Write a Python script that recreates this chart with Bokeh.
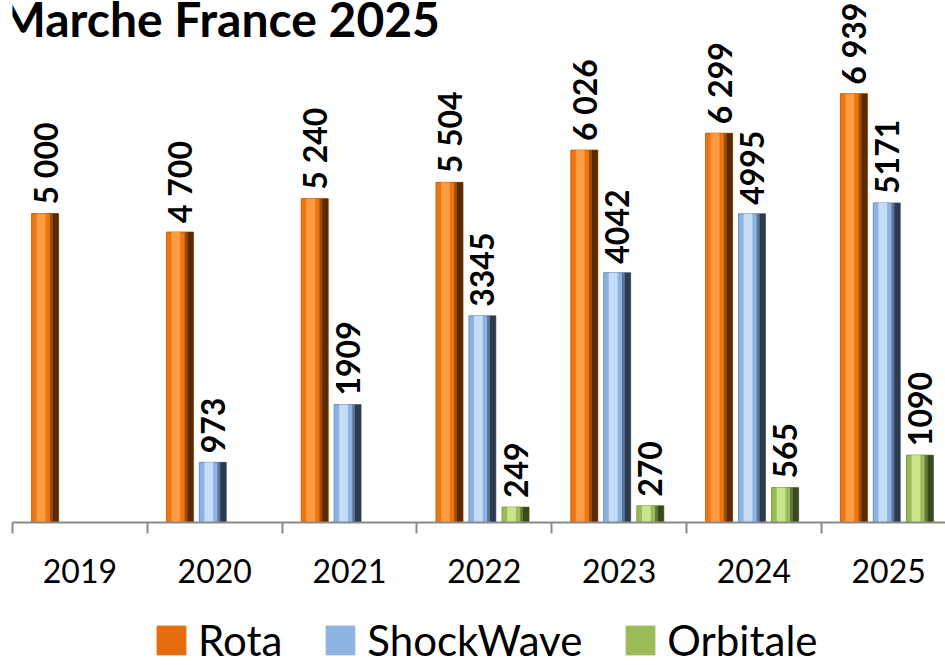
import numpy as np
from bokeh.plotting import figure
from bokeh.layouts import column
from bokeh.models import ColumnDataSource, Range1d, FixedTicker, Legend, LegendItem, Label
from bokeh.transform import dodge
from bokeh.core.properties import value
from bokeh.embed import file_html
from bokeh.resources import INLINE

# ---- data ----
years = ["2019", "2020", "2021", "2022", "2023", "2024", "2025"]
rota = [5000, 4700, 5240, 5504, 6026, 6299, 6939]
shockwave = [None, 973, 1909, 3345, 4042, 4995, 5171]
orbitale = [None, None, None, 249, 270, 565, 1090]
series_names = ["Rota", "ShockWave", "Orbitale"]
series_colors = ["#E46C0A", "#8EB4E3", "#9BBB59"]
title_text = "Marche France 2025"

FONT = "Lato"

p = figure(width=945, height=610, output_backend="svg", toolbar_location=None,
           x_range=Range1d(-0.5, 6.4214), y_range=Range1d(0, 8447),
           y_axis_location=None,
           min_border_left=12, min_border_right=0, min_border_top=0, min_border_bottom=88)
p.outline_line_color = None
p.xgrid.visible = False
p.ygrid.visible = False
p.background_fill_color = "white"
p.border_fill_color = "white"


def fmt_space(v):
    return f"{v:,}".replace(",", " ")


def fmt_plain(v):
    return f"{v}"


def draw_series(vals, off, base, light, mid, dark, edge, fmt):
    idx = [i for i, v in enumerate(vals) if v is not None]
    src = ColumnDataSource(dict(
        x=idx,
        top=[vals[i] for i in idx],
        label=[fmt(vals[i]) for i in idx],
    ))
    p.vbar(x=dodge("x", off), top="top", bottom=0, width=0.2, source=src,
           fill_color=base, line_color=edge, line_width=1)
    p.vbar(x=dodge("x", off - 0.03), top="top", bottom=0, width=0.065, source=src,
           fill_color=light, line_color=None)
    p.vbar(x=dodge("x", off + 0.045), top="top", bottom=0, width=0.02, source=src,
           fill_color=mid, line_color=None)
    p.vbar(x=dodge("x", off + 0.0775), top="top", bottom=0, width=0.045, source=src,
           fill_color=dark, line_color=None)
    p.text(x=dodge("x", off), y="top", text="label", source=src, angle=np.pi / 2,
           text_align="left", text_baseline="middle", y_offset=-9,
           text_font=value(FONT), text_font_style="bold", text_font_size="32px",
           text_color="black")
    return src


src_r = draw_series(rota, -0.258, "#EC7612", "#FF9B40", "#A24A08", "#5A2A04", "#C9600A", fmt_space)
src_s = draw_series(shockwave, -0.014, "#8DB3E2", "#C4DDF8", "#5B7396", "#2E3B4F", "#6F8FB8", fmt_plain)
src_o = draw_series(orbitale, 0.232, "#9BBB59", "#C9E48B", "#62773A", "#3A4821", "#7C9843", fmt_plain)

ax = p.xaxis[0]
ax.ticker = FixedTicker(ticks=list(range(len(years))),
                        minor_ticks=[i - 0.5 for i in range(len(years) + 1)])
ax.major_label_overrides = {i: y for i, y in enumerate(years)}
ax.major_tick_out = 0
ax.major_tick_in = 0
ax.minor_tick_out = 11
ax.minor_tick_in = 0
ax.minor_tick_line_color = "#8A8A8A"
ax.minor_tick_line_width = 2
ax.axis_line_color = "#8A8A8A"
ax.axis_line_width = 2
ax.major_label_text_font = FONT
ax.major_label_text_font_size = "32px"
ax.major_label_text_color = "black"
ax.major_label_standoff = 25

p.add_layout(Label(x=-12, y=504, x_units="screen", y_units="screen", text=title_text,
                   text_font=FONT, text_font_style="bold", text_font_size="48px",
                   text_baseline="alphabetic", text_color="black"))

# ---- legend strip ----
lg = figure(width=945, height=55, output_backend="svg", toolbar_location=None,
            x_range=Range1d(-0.5, 6.4214), y_range=Range1d(0, 8447),
            x_axis_location=None, y_axis_location=None,
            min_border_left=0, min_border_right=0, min_border_top=0, min_border_bottom=0)
lg.outline_line_color = None
lg.xgrid.visible = False
lg.ygrid.visible = False
items = []
for name, col, src in zip(series_names, series_colors, [src_r, src_s, src_o]):
    r = lg.vbar(x="x", top="top", width=0.2, source=src, fill_color=col, line_color=col,
                visible=False)
    items.append(LegendItem(label=name, renderers=[r]))
legend = Legend(items=items, orientation="horizontal", location=(141, 0),
                glyph_width=36, glyph_height=36, label_standoff=9, spacing=40,
                label_text_font=FONT, label_text_font_size="42px",
                label_text_color="black",
                inactive_fill_alpha=0,
                border_line_color=None, background_fill_alpha=0,
                padding=0, margin=0)
lg.add_layout(legend, "center")

open("out.html", "w").write(file_html(column(p, lg), INLINE))
